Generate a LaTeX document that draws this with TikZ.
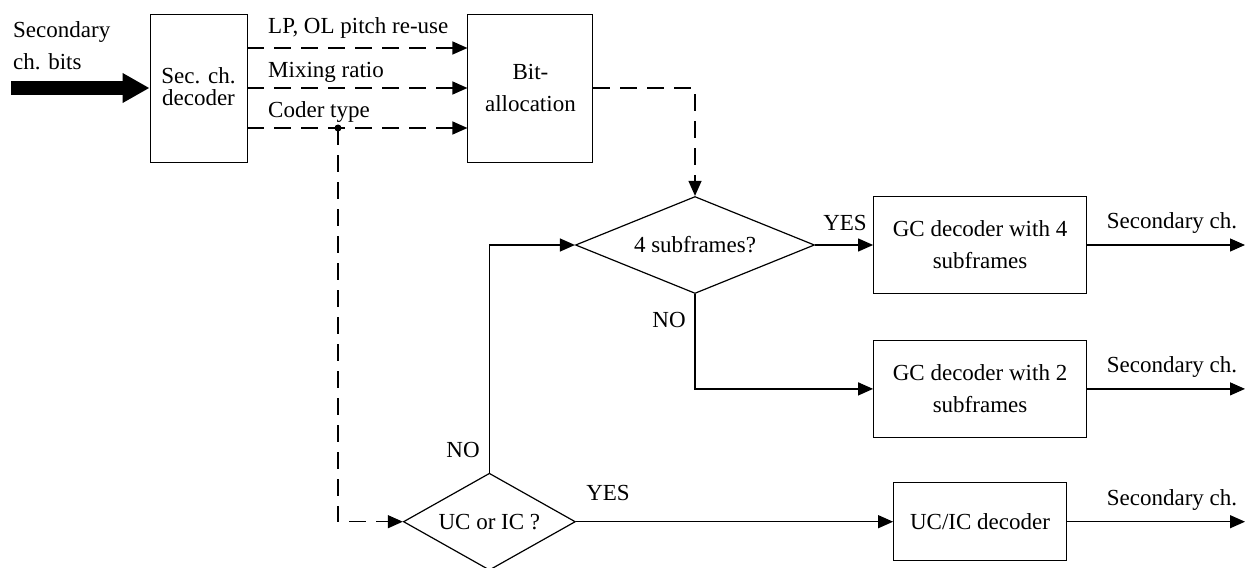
\documentclass[tikz,border=0pt]{standalone}
\usepackage{fontspec}
\setmainfont{Liberation Serif}
\usetikzlibrary{arrows.meta,positioning,shapes.geometric,calc}

\begin{document}
\begin{tikzpicture}[
  x=1pt, y=-1pt,
  font=\fontsize{23}{32}\selectfont,
  box/.style={draw, line width=0.9pt, align=center, inner sep=2pt},
  dec/.style={draw, diamond, line width=1.2pt, inner sep=0pt, aspect=2},
  arr/.style={-{Triangle[length=15pt,width=13pt]}, line width=1.2pt},
  dashln/.style={dash pattern=on 17pt off 10pt},
  lbl/.style={inner sep=0pt}
]
  \useasboundingbox (0,0) rectangle (1249,567);
  \node[box, minimum width=97pt, minimum height=148pt] (sec) at (198.5,88) {\raisebox{-5pt}{\begin{tabular}{@{}c@{}}Sec. ch.\\[-10pt]decoder\end{tabular}}};
  \node[box, minimum width=125pt, minimum height=148pt, right=220pt of sec] (bit) {Bit-\\allocation};
  \node[dec, minimum width=239pt, minimum height=97pt] (sub4) at (695,245) {4 subframes?};
  \node[dec, minimum width=172pt, minimum height=97pt] (uc) at (489.4,521.7) {UC or IC ?};
  \node[box, minimum width=213pt, minimum height=97pt, right=58pt of sub4] (gc4) {GC decoder with 4\\subframes};
  \node[box, minimum width=213pt, minimum height=97pt, below=46pt of gc4] (gc2) {GC decoder with 2\\subframes};
  \node[box, minimum width=173pt, minimum height=78pt] (ucic) at (gc2.center |- uc.center) {UC/IC decoder};

  % input bits
  \coordinate (src) at (11,88);
  \draw[line width=14pt, -{Triangle[length=27pt,width=28pt]}] (src) -- (sec.west);
  \node[lbl, align=left, anchor=west] (srclbl) at (13,46) {Secondary\\ch. bits};

  % side information
  \draw[arr, dashln] ($(sec.east)+(0,-40)$) -- ($(bit.west)+(0,-40)$);
  \draw[arr, dashln] (sec.east) -- (bit.west);
  \draw[arr, dashln] ($(sec.east)+(0,40)$) -- ($(bit.west)+(0,40)$);
  \node[lbl, anchor=west] (lplbl) at (268,28) {LP, OL pitch re-use};
  \node[lbl, anchor=west] (mixlbl) at (268,72) {Mixing ratio};
  \node[lbl, anchor=west] (ctlbl) at (268,112) {Coder type};
  \coordinate (tap) at (338,128);
  \fill (tap) circle (3.5pt);
  \draw[arr, dashln] (tap) |- (uc.west);
  \draw[arr, dashln] (bit.east) -| (sub4.north);

  % decisions
  \draw[arr] (uc.north) |- (sub4.west);
  \draw[arr] (sub4.east) -- (gc4.west);
  \draw[arr] (sub4.south) |- (gc2.west);
  \draw[arr] (uc.east) -- (ucic.west);
  \node[lbl] (yes1) at (845,223) {YES};
  \node[lbl] (no1) at (669,320) {NO};
  \node[lbl] (no2) at (463,450) {NO};
  \node[lbl] (yes2) at (608,493) {YES};

  % outputs
  \coordinate (end) at (1245,0);
  \coordinate (labx) at (1172,0);
  \foreach \b in {gc4,gc2,ucic}{
    \draw[arr] (\b.east) -- (\b.east -| end);
    \node[lbl] (\b-lbl) at ($(\b.east -| labx)+(0,-22)$) {Secondary ch.};
  }
\end{tikzpicture}
\end{document}
